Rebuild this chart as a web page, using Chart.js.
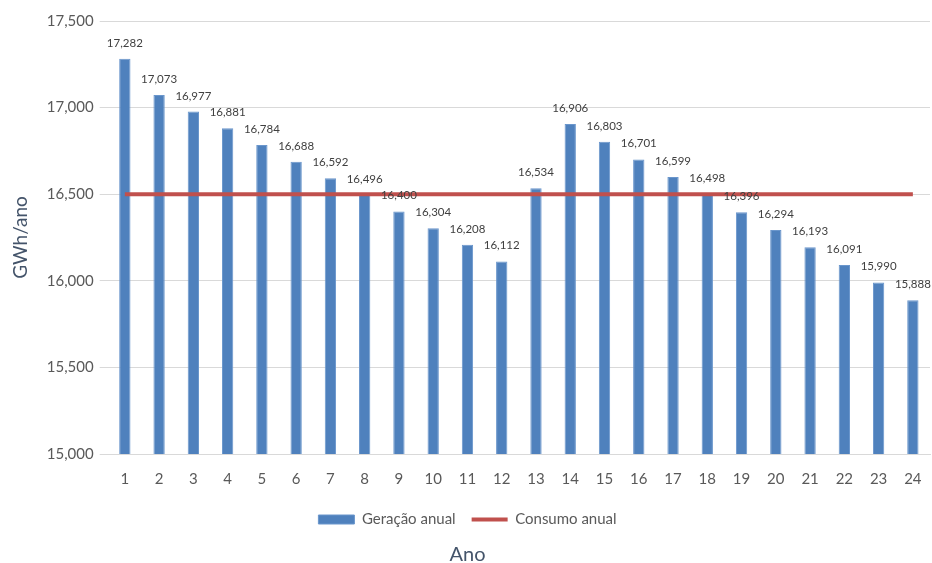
<!DOCTYPE html>
<html>
<head>
<meta charset="utf-8">
<script src="https://cdn.jsdelivr.net/npm/chart.js@4.4.0/dist/chart.umd.min.js"></script>
<style>
  html, body { margin: 0; padding: 0; background: #fff; }
  #wrap { width: 932px; height: 563px; }
</style>
</head>
<body>
<div id="wrap"><canvas id="chart"></canvas></div>
<script>
// dados
var anos = ['1','2','3','4','5','6','7','8','9','10','11','12','13','14','15','16','17','18','19','20','21','22','23','24'];
var geracao = [17282,17073,16977,16881,16784,16688,16592,16496,16400,16304,16208,16112,16534,16906,16803,16701,16599,16498,16396,16294,16193,16091,15990,15888];
var consumo = [16500,16500,16500,16500,16500,16500,16500,16500,16500,16500,16500,16500,16500,16500,16500,16500,16500,16500,16500,16500,16500,16500,16500,16500];
var yTicks = [15000,15500,16000,16500,17000,17500];

var fonte = 'Lato, "Open Sans", sans-serif';

// rótulos de valor acima das barras
var rotulos = {
    id: 'rotulos',
    afterDatasetsDraw: function(chart) {
        var ctx = chart.ctx;
        var meta = chart.getDatasetMeta(0);
        ctx.save();
        ctx.font = '11.5px ' + fonte;
        ctx.fillStyle = '#404040';
        ctx.textAlign = 'center';
        ctx.textBaseline = 'bottom';
        meta.data.forEach(function(bar, i) {
            ctx.fillText(geracao[i].toLocaleString('en-US'), bar.x, bar.y - 10);
        });
        ctx.restore();
    }
};

new Chart(document.getElementById('chart'), {
    type: 'bar',
    data: {
        labels: anos,
        datasets: [{
            label: 'Geração anual',
            data: geracao,
            backgroundColor: '#4F81BD',
            borderColor: '#6A96CC',
            borderWidth: 1,
            barPercentage: 0.33,
            categoryPercentage: 1,
            pointStyle: 'rect',
            order: 2
        }, {
            label: 'Consumo anual',
            type: 'line',
            data: consumo,
            borderColor: '#C0504D',
            backgroundColor: '#C0504D',
            borderWidth: 4,
            pointRadius: 0,
            pointStyle: 'line',
            fill: false,
            order: 1
        }]
    },
    options: {
        responsive: true,
        maintainAspectRatio: false,
        animation: false,
        layout: { padding: { top: 21, right: 2, left: 5, bottom: 0 } },
        plugins: {
            tooltip: { enabled: false },
            legend: {
                position: 'bottom',
                labels: {
                    font: { family: fonte, size: 15 },
                    color: '#595959',
                    usePointStyle: true,
                    pointStyleWidth: 36,
                    boxHeight: 9,
                    padding: 16,
                    sort: function(a, b) { return a.datasetIndex - b.datasetIndex; }
                }
            },
            title: {
                display: true,
                position: 'bottom',
                text: 'Ano',
                color: '#44546A',
                font: { family: fonte, size: 20, weight: 'normal', lineHeight: 0.8 },
                padding: { top: 10, bottom: 0 }
            }
        },
        scales: {
            x: {
                grid: { display: false },
                border: { color: '#D9D9D9' },
                ticks: { color: '#595959', font: { family: fonte, size: 15 }, padding: 8 }
            },
            y: {
                min: 15000,
                max: 17500,
                afterBuildTicks: function(axis) {
                    axis.ticks = yTicks.map(function(v) { return { value: v }; });
                },
                grid: { color: '#D9D9D9', drawTicks: true, tickLength: 8, tickColor: '#D9D9D9' },
                border: { display: false },
                ticks: {
                    color: '#595959',
                    font: { family: fonte, size: 15 },
                    padding: 6,
                    callback: function(v) { return v.toLocaleString('en-US'); }
                },
                title: {
                    display: true,
                    text: 'GWh/ano',
                    color: '#44546A',
                    font: { family: fonte, size: 19 },
                    padding: { bottom: 9 }
                }
            }
        }
    },
    plugins: [rotulos]
});
</script>
</body>
</html>
